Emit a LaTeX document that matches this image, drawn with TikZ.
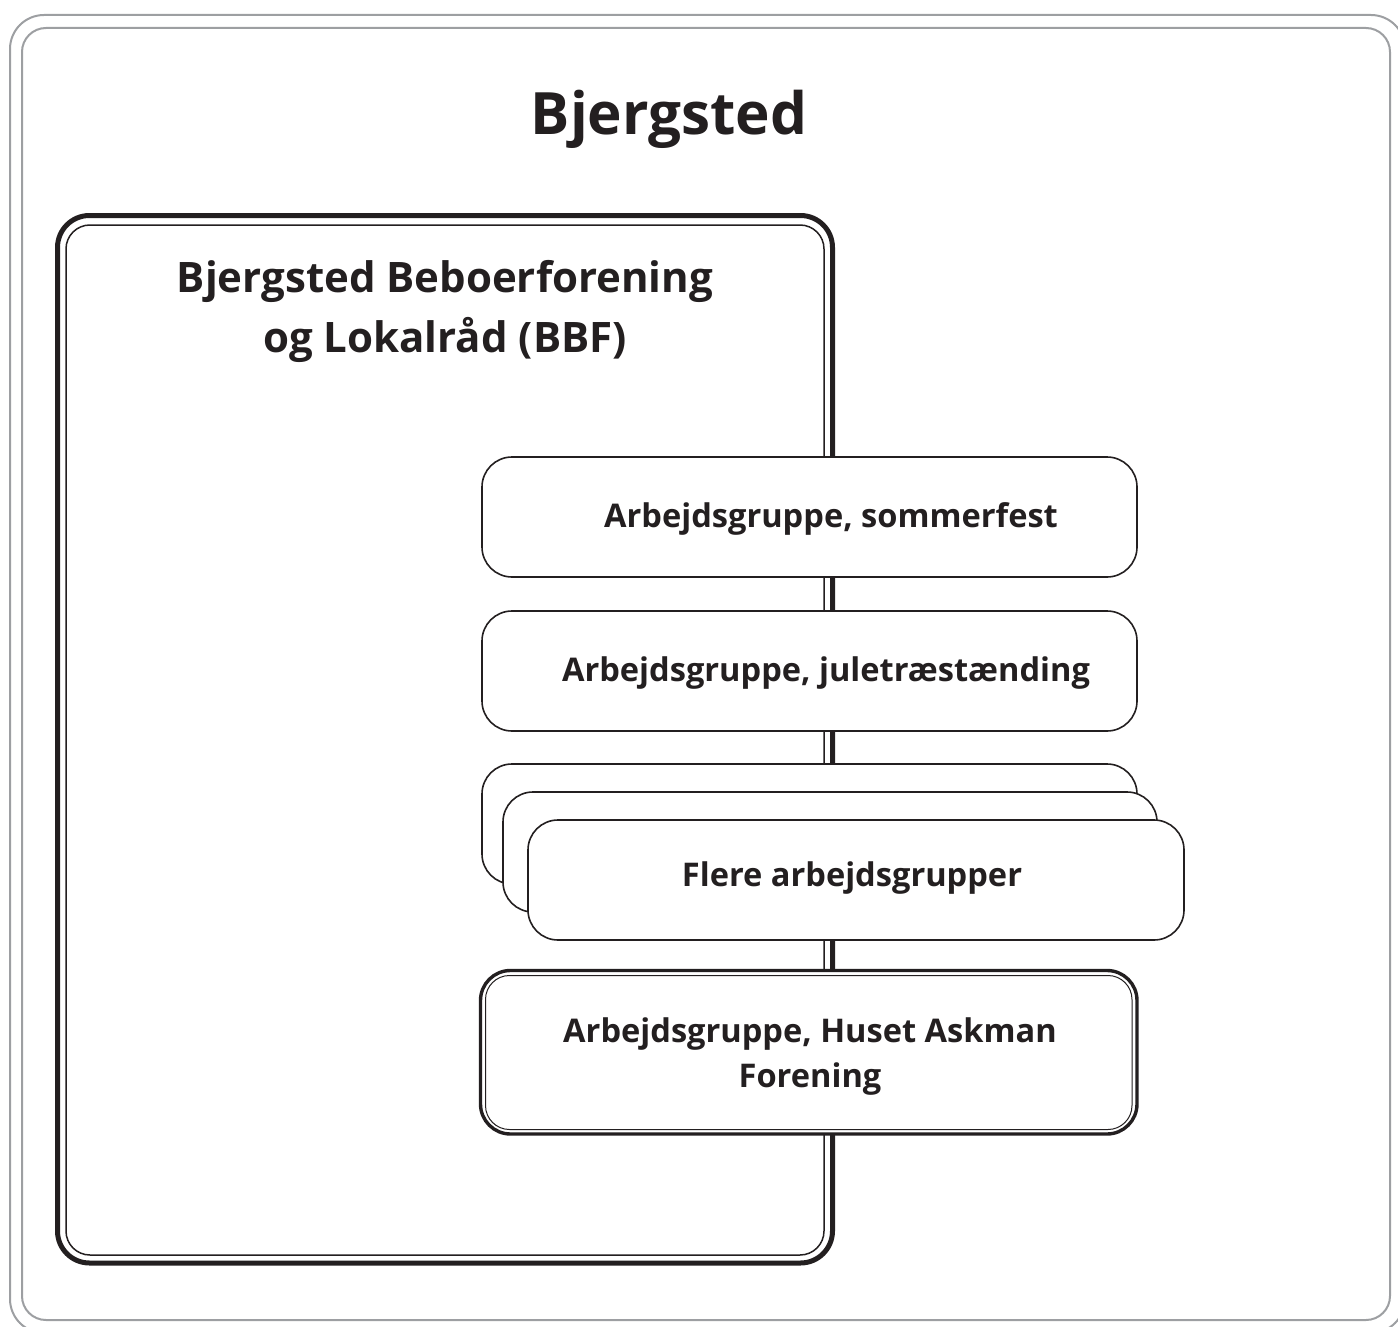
\documentclass[tikz,border=0pt]{standalone}
\usepackage{fontspec}
\setmainfont{Open Sans}
\usepackage{tikz}
\definecolor{ink}{HTML}{231F20}
\definecolor{framegray}{HTML}{9D9FA2}

\begin{document}
\begin{tikzpicture}[x=0.5pt, y=-0.5pt,
		grp/.style={draw=ink, line width=0.8pt, rounded corners=15pt, fill=white},
		lbl/.style={font=\bfseries\fontsize{16.3}{22.5}\selectfont, text=ink, inner sep=0pt, align=center, anchor=base}]
		\useasboundingbox (0,0) rectangle (1398,1327);
		% frame
		\draw[framegray, line width=1pt, rounded corners=17pt] (10,15) rectangle (1405,1333);
		\draw[framegray, line width=1pt, rounded corners=12pt] (22,28) rectangle (1390,1320);
		\node[lbl, font=\bfseries\fontsize{29.2}{36}\selectfont] (title) at (669,134) {Bjergsted};
		% BBF
		\draw[ink, line width=2.5pt, rounded corners=16pt] (57.5,215.5) rectangle (832.5,1263);
		\draw[ink, line width=0.75pt, rounded corners=12pt] (66,225) rectangle (824,1255);
		\node[lbl, font=\bfseries\fontsize{21}{30}\selectfont] (bbf) at (445,352) {Bjergsted Beboerforening\\og Lokalråd (BBF)};
		% arbejdsgrupper
		\draw[grp] (482,457) rectangle (1137,577);
		\node[lbl] (sommer) at (831,527) {Arbejdsgruppe, sommerfest};
		\draw[grp] (482,611) rectangle (1137,731);
		\node[lbl] (jul) at (826,681) {Arbejdsgruppe, juletræstænding};
		\draw[grp] (482,764) rectangle (1137,884);
		\draw[grp] (503,792) rectangle (1157,912);
		\draw[grp] (528,820) rectangle (1184,940);
		\node[lbl] (flere) at (852,886) {Flere arbejdsgrupper};
		\draw[grp, line width=1.7pt] (480.5,970.5) rectangle (1137,1134);
		\draw[ink, line width=0.5pt, rounded corners=12pt] (485.5,975.5) rectangle (1132,1129.5);
		\node[lbl] (huset) at (810,1087) {Arbejdsgruppe, Huset Askman\\Forening};
\end{tikzpicture}
\end{document}
